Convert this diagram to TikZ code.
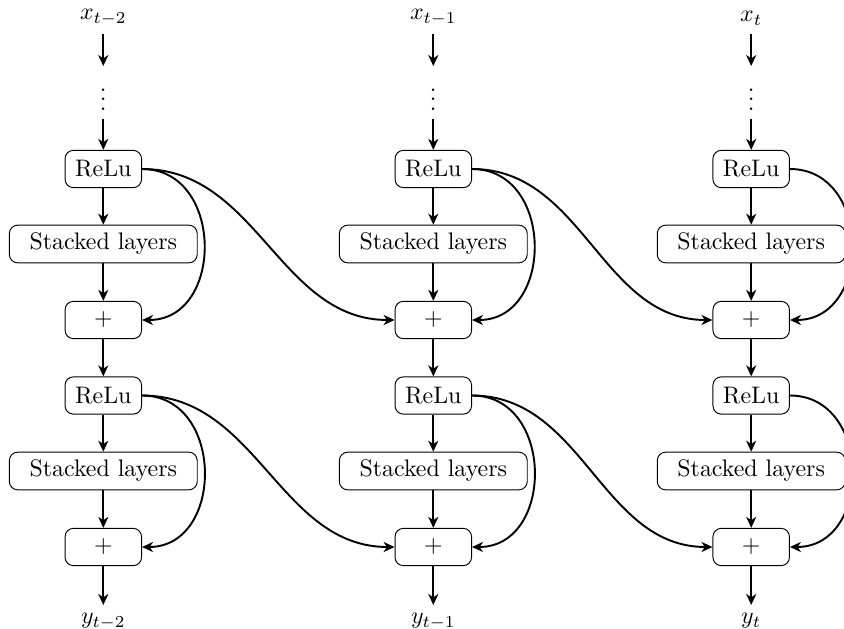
\documentclass[tikz,border=0pt]{standalone}
\usetikzlibrary{arrows.meta}
\begin{document}
\begin{tikzpicture}[x=0.4184pt,y=-0.4184pt,
  blk/.style={draw, rounded corners=3.5pt, minimum height=15.6pt, inner sep=3.33pt},
  smallbox/.style={blk, minimum width=32pt},
  widebox/.style={blk, minimum width=78.6pt},
  flow/.style={thick, -{Stealth[length=4.6pt,width=4.2pt,inset=1.4pt]}}]
\useasboundingbox (0,0) rectangle (844,629);

% three time steps, each a column of two residual blocks
\foreach \c/\xx/\sub in {1/103.3/t-2, 2/433.3/t-1, 3/751.2/t} {
  \node[anchor=south] (x\c) at (\xx,34) {$x_{\sub}$};
  \node (d\c) at (\xx,92.5) {$\vdots$};
  \node[smallbox] (ra\c) at (\xx,169) {ReLu};
  \node[widebox]  (sa\c) at (\xx,244) {Stacked layers};
  \node[smallbox] (pa\c) at (\xx,320) {$+$};
  \node[smallbox] (rb\c) at (\xx,395.5) {ReLu};
  \node[widebox]  (sb\c) at (\xx,471) {Stacked layers};
  \node[smallbox] (pb\c) at (\xx,547) {$+$};
  \node[anchor=north] (y\c) at (\xx,605) {$y_{\sub}$};

  \draw[flow] (x\c) -- (d\c);
  \draw[flow] (d\c) -- (ra\c);
  \draw[flow] (ra\c) -- (sa\c);
  \draw[flow] (sa\c) -- (pa\c);
  \draw[flow] (pa\c) -- (rb\c);
  \draw[flow] (rb\c) -- (sb\c);
  \draw[flow] (sb\c) -- (pb\c);
  \draw[flow] (pb\c) -- (y\c);

  % skip connections inside the column
  \draw[flow] (ra\c.east) to[out=0,in=0,looseness=1.4] (pa\c.east);
  \draw[flow] (rb\c.east) to[out=0,in=0,looseness=1.4] (pb\c.east);
}

% connections into the next time step
\foreach \c/\d in {1/2, 2/3} {
  \draw[flow] (ra\c.east) to[out=0,in=180] (pa\d.west);
  \draw[flow] (rb\c.east) to[out=0,in=180] (pb\d.west);
}
\end{tikzpicture}
\end{document}
